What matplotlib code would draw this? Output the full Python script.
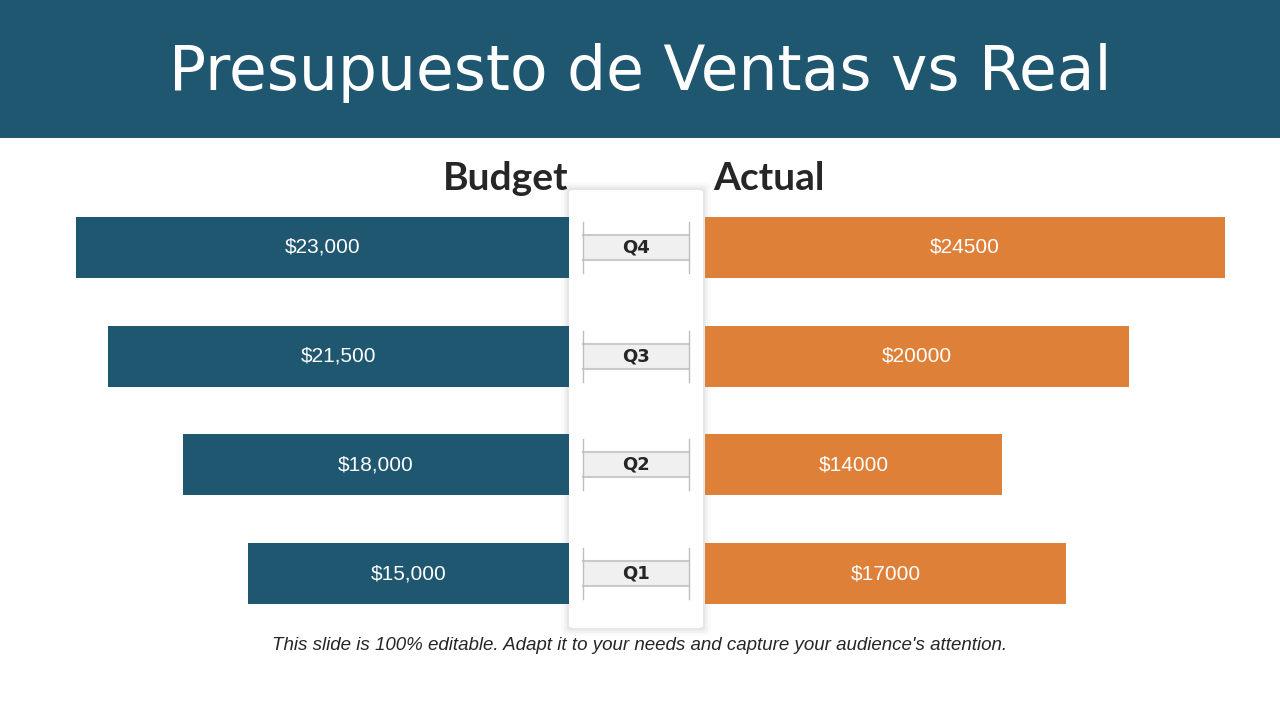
import matplotlib
matplotlib.use("Agg")
import matplotlib.pyplot as plt
from matplotlib.patches import Rectangle, FancyBboxPatch

# ---- data ----
quarters = ["Q1", "Q2", "Q3", "Q4"]
budget = [15000, 18000, 21500, 23000]
actual = [17000, 14000, 20000, 24500]
budget_labels = ["$15,000", "$18,000", "$21,500", "$23,000"]
actual_labels = ["$17000", "$14000", "$20000", "$24500"]
title = "Presupuesto de Ventas vs Real"
left_header = "Budget"
right_header = "Actual"
footer = "This slide is 100% editable. Adapt it to your needs and capture your audience's attention."

BLUE = "#1F5770"
ORANGE = "#DF8039"
W, H = 1280, 720

fig = plt.figure(figsize=(12.8, 7.2), dpi=100)
fig.patch.set_facecolor("white")

def fx(px):
    return px / W

def fy(py):  # py from top
    return 1 - py / H

# title band
fig.patches.append(Rectangle((0, fy(138)), 1, 138 / H, transform=fig.transFigure,
                             facecolor="#1F5670", edgecolor="none", zorder=0))
fig.text(0.5, fy(73), title, ha="center", va="center", color="white",
         fontsize=44.3, family="DejaVu Sans", zorder=10)

# center panel with soft shadow
for i, a in enumerate([0.02, 0.03, 0.045]):
    d = (3 - i) * 2.5
    fig.patches.append(FancyBboxPatch((fx(569 - d), fy(628 + d)), (134 + 2 * d) / W, (438 + 2 * d) / H,
                                      boxstyle="round,pad=0,rounding_size=0.004",
                                      transform=fig.transFigure, facecolor="black", alpha=a,
                                      edgecolor="none", zorder=1))
fig.patches.append(FancyBboxPatch((fx(569), fy(628)), 134 / W, 438 / H,
                                  boxstyle="round,pad=0,rounding_size=0.004",
                                  transform=fig.transFigure, facecolor="white",
                                  edgecolor="none", zorder=2))

ybot = fy(628)
yh = 435 / H
bar_h = 0.56
ypos = list(range(len(quarters)))

# left (budget) axes
axL = fig.add_axes([0, ybot, fx(569), yh])
axL.set_zorder(5)
axL.patch.set_visible(False)
axL.barh(ypos, budget, height=bar_h, color=BLUE)
axL.set_xlim(569 / 0.02143, 0)
axL.set_ylim(-0.5, 3.5)
for y, v, lab in zip(ypos, budget, budget_labels):
    axL.text(v / 2, y, lab, ha="center", va="center", color="white",
             fontsize=15, family="Liberation Sans")
axL.axis("off")

# right (actual) axes
axR = fig.add_axes([fx(705), ybot, fx(575), yh])
axR.set_zorder(5)
axR.patch.set_visible(False)
axR.barh(ypos, actual, height=bar_h, color=ORANGE)
axR.set_xlim(0, 575 / 0.02122)
axR.set_ylim(-0.5, 3.5)
for y, v, lab in zip(ypos, actual, actual_labels):
    axR.text(v / 2, y, lab, ha="center", va="center", color="white",
             fontsize=15, family="Liberation Sans")
axR.axis("off")

# center quarter labels
axC = fig.add_axes([fx(569), ybot, fx(134), yh])
axC.set_zorder(6)
axC.patch.set_visible(False)
axC.set_xlim(569, 703)
axC.set_ylim(-0.5, 3.5)
axC.axis("off")
bh = 25 / 108.75
vh = 51 / 108.75
for y, q in zip(ypos, quarters):
    axC.add_patch(Rectangle((583, y - bh / 2), 106, bh, facecolor="#F0F0F0",
                            edgecolor="none"))
    axC.plot([583, 689], [y + bh / 2] * 2, color="#CACACA", lw=1.5)
    axC.plot([583, 689], [y - bh / 2] * 2, color="#CACACA", lw=1.5)
    axC.plot([583, 583], [y - vh / 2, y + vh / 2], color="#BEBEBE", lw=1)
    axC.plot([689, 689], [y - vh / 2, y + vh / 2], color="#BEBEBE", lw=1)
    axC.text(636, y, q, ha="center", va="center", color="#262626",
             fontsize=13, fontweight="bold", family="DejaVu Sans")

# headers
fig.text(fx(568), fy(179), left_header, ha="right", va="center", color="#262626",
         fontsize=28, fontweight="bold", family="Lato", zorder=10)
fig.text(fx(713), fy(179), right_header, ha="left", va="center", color="#262626",
         fontsize=28, fontweight="bold", family="Lato", zorder=10)

# footer
fig.text(fx(640), fy(645), footer, ha="center", va="center", color="#262626",
         fontsize=13.5, style="italic", family="Liberation Sans", zorder=10)

fig.savefig("out.png", dpi=100)
